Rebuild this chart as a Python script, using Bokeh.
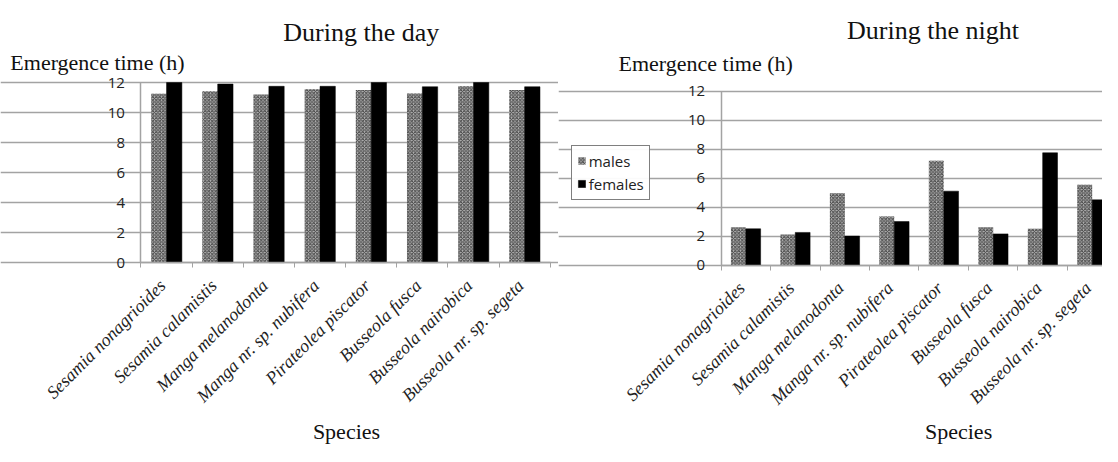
from math import pi
from bokeh.plotting import figure
from bokeh.models import (Range1d, FixedTicker, Label, Legend, LegendItem,
                          ColumnDataSource, LabelSet)
from bokeh.transform import dodge
from bokeh.layouts import row
from bokeh.embed import file_html
from bokeh.resources import INLINE

species = ["Sesamia nonagrioides", "Sesamia calamistis", "Manga melanodonta",
           "Manga nr. sp. nubifera", "Pirateolea piscator", "Busseola fusca",
           "Busseola nairobica", "Busseola nr. sp. segeta"]
day_males = [11.25, 11.42, 11.2, 11.55, 11.5, 11.27, 11.75, 11.5]
day_females = [12.0, 11.9, 11.75, 11.75, 12.0, 11.72, 12.0, 11.72]
night_males = [2.6, 2.1, 4.95, 3.35, 7.2, 2.6, 2.5, 5.55]
night_females = [2.5, 2.25, 2.0, 3.0, 5.1, 2.15, 7.75, 4.5]
y_ticks = [0, 2, 4, 6, 8, 10, 12]
series_labels = ["males", "females"]
titles = ["During the day", "During the night"]
y_label = "Emergence time (h)"
x_label = "Species"

SERIF = "Liberation Serif"
SANS = "Open Sans"
GRID = "#a3a3a3"
W, H = 1102, 446                 # drawing size
SX, SY = W / 1118, H / 462       # layout pixels -> drawing pixels
BASE_FIX = 7                     # text box baseline correction (drawing px)


def make_chart(c_left, c_right, axis_px, cat_px, zero_px, top_px, males, females):
    """c_left/c_right in drawing px; the other geometry in layout px."""
    n = len(species)
    axis_c, cat_c = axis_px * SX, cat_px * SX
    zero_c, top_c = zero_px * SY, top_px * SY
    ppu = (zero_c - top_c) / y_ticks[-1]
    xr = Range1d(-(axis_c - c_left) / cat_c, (c_right - axis_c) / cat_c)
    yr = Range1d(-(H - zero_c) / ppu, zero_c / ppu)
    src = ColumnDataSource(dict(x=[i + 0.5 for i in range(n)], males=males,
                                females=females, species=species))
    p = figure(width=c_right - c_left, height=H, x_range=xr, y_range=yr,
               output_backend="svg", toolbar_location=None, title=None,
               min_border=0, min_border_left=0, min_border_right=0,
               min_border_top=0, min_border_bottom=0)
    p.outline_line_color = None
    p.background_fill_color = "white"
    p.border_fill_color = "white"
    rm = p.vbar(x=dodge("x", -0.15, range=p.x_range), top="males", width=0.3, source=src,
                fill_color="#b5b5b5", line_color=None, hatch_pattern="diagonal_cross",
                hatch_color="#444444", hatch_scale=3.5, hatch_weight=1.0)
    rf = p.vbar(x=dodge("x", 0.15, range=p.x_range), top="females", width=0.3, source=src,
                fill_color="black", line_color="black", line_width=0.5)
    # y axis, drawn at x = 0
    p.yaxis.fixed_location = 0
    p.yaxis.bounds = (0, y_ticks[-1])
    p.yaxis.ticker = FixedTicker(ticks=y_ticks)
    p.yaxis.axis_line_color = GRID
    p.yaxis.axis_line_width = 1.5
    p.yaxis.major_tick_line_color = GRID
    p.yaxis.major_tick_out = 5
    p.yaxis.major_tick_in = 0
    p.yaxis.minor_tick_line_color = None
    p.yaxis.major_label_text_font = SANS
    p.yaxis.major_label_text_font_size = "15px"
    p.yaxis.major_label_text_color = "#222222"
    p.yaxis.major_label_standoff = 11
    # x axis, drawn at y = 0, ticks between categories
    p.xaxis.fixed_location = 0
    p.xaxis.bounds = (0, n)
    p.xaxis.ticker = FixedTicker(ticks=[], minor_ticks=[float(i) for i in range(n + 1)])
    p.xaxis.axis_line_color = GRID
    p.xaxis.axis_line_width = 1.5
    p.xaxis.major_tick_line_color = None
    p.xaxis.minor_tick_line_color = GRID
    p.xaxis.minor_tick_out = 5
    p.xaxis.minor_tick_in = 0
    # category labels (italic species names, slanted)
    p.add_layout(LabelSet(x="x", y=0, x_offset=-4, y_offset=-20, text="species", source=src,
                          angle=pi / 4, text_align="right", text_baseline="middle",
                          text_font=SERIF, text_font_style="italic",
                          text_font_size="18px", text_color="#222222"))
    # grid
    p.xgrid.visible = False
    p.ygrid.grid_line_color = GRID
    p.ygrid.grid_line_width = 1.5
    p.ygrid.ticker = FixedTicker(ticks=y_ticks)
    p.ygrid.bounds = (0, n)
    return p, rm, rf


def text(p, c_left, x_px, base_px, s, size, align):
    p.add_layout(Label(x=x_px * SX - c_left, y=H - base_px * SY + BASE_FIX, x_units="screen",
                       y_units="screen", text=s, text_font=SERIF, text_font_size=size,
                       text_align=align, text_baseline="alphabetic", text_color="#111111"))


SPLIT = round(566 * SX)

# Left chart (during the day)
left, _, _ = make_chart(0, SPLIT, 142.5, 51.9, 271.5, 85, day_males, day_females)
text(left, 0, 366, 40, titles[0], "26px", "center")
text(left, 0, 10, 71, y_label, "22px", "left")
text(left, 0, 351, 454, x_label, "22px", "center")

# Right chart (during the night)
right, rm, rf = make_chart(SPLIT, W, 731, 50.2, 274, 94, night_males, night_females)
text(right, SPLIT, 946, 38, titles[1], "26px", "center")
text(right, SPLIT, 627, 72, y_label, "22px", "left")
text(right, SPLIT, 972, 454, x_label, "22px", "center")

legend = Legend(items=[LegendItem(label=series_labels[0], renderers=[rm]),
                       LegendItem(label=series_labels[1], renderers=[rf])],
                location=(579 * SX - SPLIT, H - 207 * SY))
legend.margin = 0
legend.padding = 5
legend.spacing = 3
legend.label_standoff = 3
legend.glyph_width = 9
legend.glyph_height = 9
legend.label_height = 14
legend.label_text_font = SANS
legend.label_text_font_size = "15px"
legend.label_text_color = "#222222"
legend.border_line_color = "black"
legend.border_line_width = 1.5
right.add_layout(legend)

layout = row(left, right)
open("out.html", "w").write(file_html(layout, INLINE))
